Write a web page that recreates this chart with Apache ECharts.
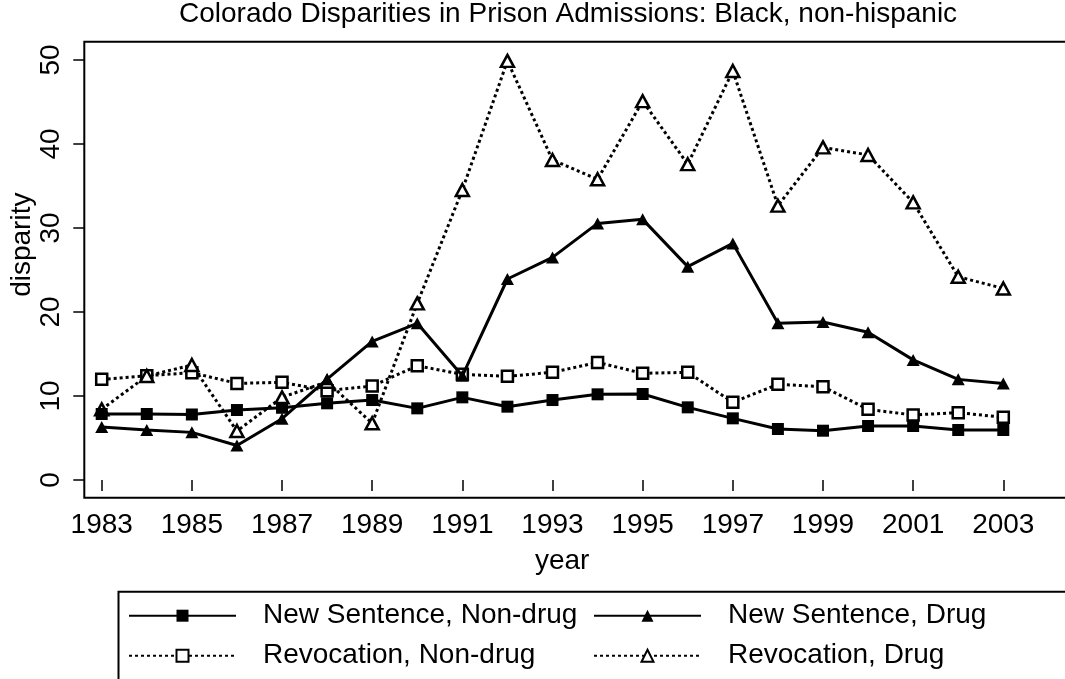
<!DOCTYPE html>
<html>
<head>
<meta charset="utf-8">
<script src="https://cdn.jsdelivr.net/npm/echarts@6/dist/echarts.min.js"></script>
<style>
html,body{margin:0;padding:0;background:#fff;}
#chart{width:1065px;height:679px;}
</style>
</head>
<body>
<div id="chart"></div>
<script>
const years = [1983,1984,1985,1986,1987,1988,1989,1990,1991,1992,1993,1994,1995,1996,1997,1998,1999,2000,2001,2002,2003];
const newSentenceNonDrug = [7.86,7.86,7.8,8.33,8.6,9.13,9.52,8.53,9.84,8.73,9.52,10.2,10.24,8.65,7.34,6.07,5.87,6.43,6.43,5.95,5.95];
const newSentenceDrug = [6.3,5.95,5.67,4.1,7.3,12.0,16.5,18.65,12.4,23.93,26.5,30.55,31.03,25.4,28.17,18.65,18.8,17.58,14.3,11.98,11.5];
const revocationNonDrug = [11.98,12.42,12.78,11.5,11.63,10.64,11.19,13.6,12.58,12.34,12.82,14.0,12.7,12.82,9.25,11.39,11.11,8.41,7.74,8.02,7.46];
const revocationDrug = [8.41,12.38,13.69,5.83,9.84,11.7,6.75,21.03,34.52,49.9,38.1,35.8,45.1,37.6,48.7,32.66,39.6,38.7,33.05,24.2,22.8];
const xTickLabels = [1983,1985,1987,1989,1991,1993,1995,1997,1999,2001,2003];
const yTickLabels = [0,10,20,30,40,50];
const seriesNames = ['New Sentence, Non-drug','New Sentence, Drug','Revocation, Non-drug','Revocation, Drug'];
const titleText = 'Colorado Disparities in Prison Admissions: Black, non-hispanic';

const FONT = 'Liberation Sans, Arial, Helvetica, sans-serif';
const FS = 28;
const pair = arr => years.map((y,i)=>[y,arr[i]]);
const dotted = [3, 3];

const mctx = document.createElement('canvas').getContext('2d');
mctx.font = FS + 'px ' + FONT;
const titleW = mctx.measureText(titleText).width;

const chart = echarts.init(document.getElementById('chart'), null, {renderer:'canvas'});
chart.setOption({
  animation:false,
  backgroundColor:'#fff',
  title:{
    text:titleText,
    left:Math.round(563.5 - titleW/2), top:-5,
    textStyle:{fontFamily:FONT,fontSize:FS,fontWeight:'normal',color:'#000'}
  },
  grid:{left:84.3, top:41.7, right:-45, bottom:181.3, outerBoundsMode:'none', containLabel:false,
        show:true, borderColor:'#000', borderWidth:2, backgroundColor:'transparent'},
  xAxis:{
    type:'value', min:1982.614, max:1982.614 + (1065 + 45 - 84.3)/45.08,
    name:'year', nameLocation:'middle', nameGap:50,
    nameTextStyle:{fontFamily:FONT,fontSize:FS,color:'#000',padding:[0,70,0,0]},
    axisLine:{show:false},
    axisTick:{show:true, length:11, customValues:xTickLabels, lineStyle:{color:'#000',width:1.5}},
    axisLabel:{customValues:xTickLabels, margin:14, fontFamily:FONT, fontSize:FS, color:'#000', formatter:v=>String(v)},
    splitLine:{show:false}
  },
  yAxis:{
    type:'value', min:-2.107, max:52.18,
    name:'disparity', nameLocation:'middle', nameGap:48, nameMoveOverlap:false,
    nameTextStyle:{fontFamily:FONT,fontSize:FS,color:'#000',padding:[0,0,0,50]},
    axisLine:{show:false},
    axisTick:{show:true, length:11, customValues:yTickLabels, lineStyle:{color:'#000',width:1.5}},
    axisLabel:{customValues:yTickLabels, rotate:90, margin:19, fontFamily:FONT, fontSize:FS, color:'#000'},
    splitLine:{show:false}
  },
  legend:[
    {left:128, top:600.7, orient:'vertical', padding:0, itemGap:10, itemWidth:107, itemHeight:15,
     data:[seriesNames[0],seriesNames[2]],
     textStyle:{fontFamily:FONT,fontSize:FS,color:'#000',lineHeight:30,padding:[0,0,0,22]}},
    {left:593, top:600.7, orient:'vertical', padding:0, itemGap:10, itemWidth:107, itemHeight:15,
     data:[seriesNames[1],seriesNames[3]],
     textStyle:{fontFamily:FONT,fontSize:FS,color:'#000',lineHeight:30,padding:[0,0,0,22]}}
  ],
  graphic:[
    {type:'rect', left:116, top:589.3, shape:{x:0,y:0,width:1100,height:120}, style:{fill:'none', stroke:'#000', lineWidth:2}, silent:true, z:-1}
  ],
  series:[
    {name:seriesNames[0], type:'line', data:pair(newSentenceNonDrug), symbol:'rect', symbolSize:12,
     itemStyle:{color:'#000'}, lineStyle:{color:'#000', width:3}, z:4},
    {name:seriesNames[1], type:'line', data:pair(newSentenceDrug), symbol:'triangle', symbolSize:[13,12],
     itemStyle:{color:'#000'}, lineStyle:{color:'#000', width:3}, z:4},
    {name:seriesNames[2], type:'line', data:pair(revocationNonDrug), symbol:'rect', symbolSize:11,
     itemStyle:{color:'#fff', borderColor:'#000', borderWidth:2.5}, lineStyle:{color:'#000', width:3, type:dotted}, z:3},
    {name:seriesNames[3], type:'line', data:pair(revocationDrug), symbol:'triangle', symbolSize:[13,12],
     itemStyle:{color:'#fff', borderColor:'#000', borderWidth:2.5}, lineStyle:{color:'#000', width:3, type:dotted}, z:3}
  ]
});
</script>
</body>
</html>
